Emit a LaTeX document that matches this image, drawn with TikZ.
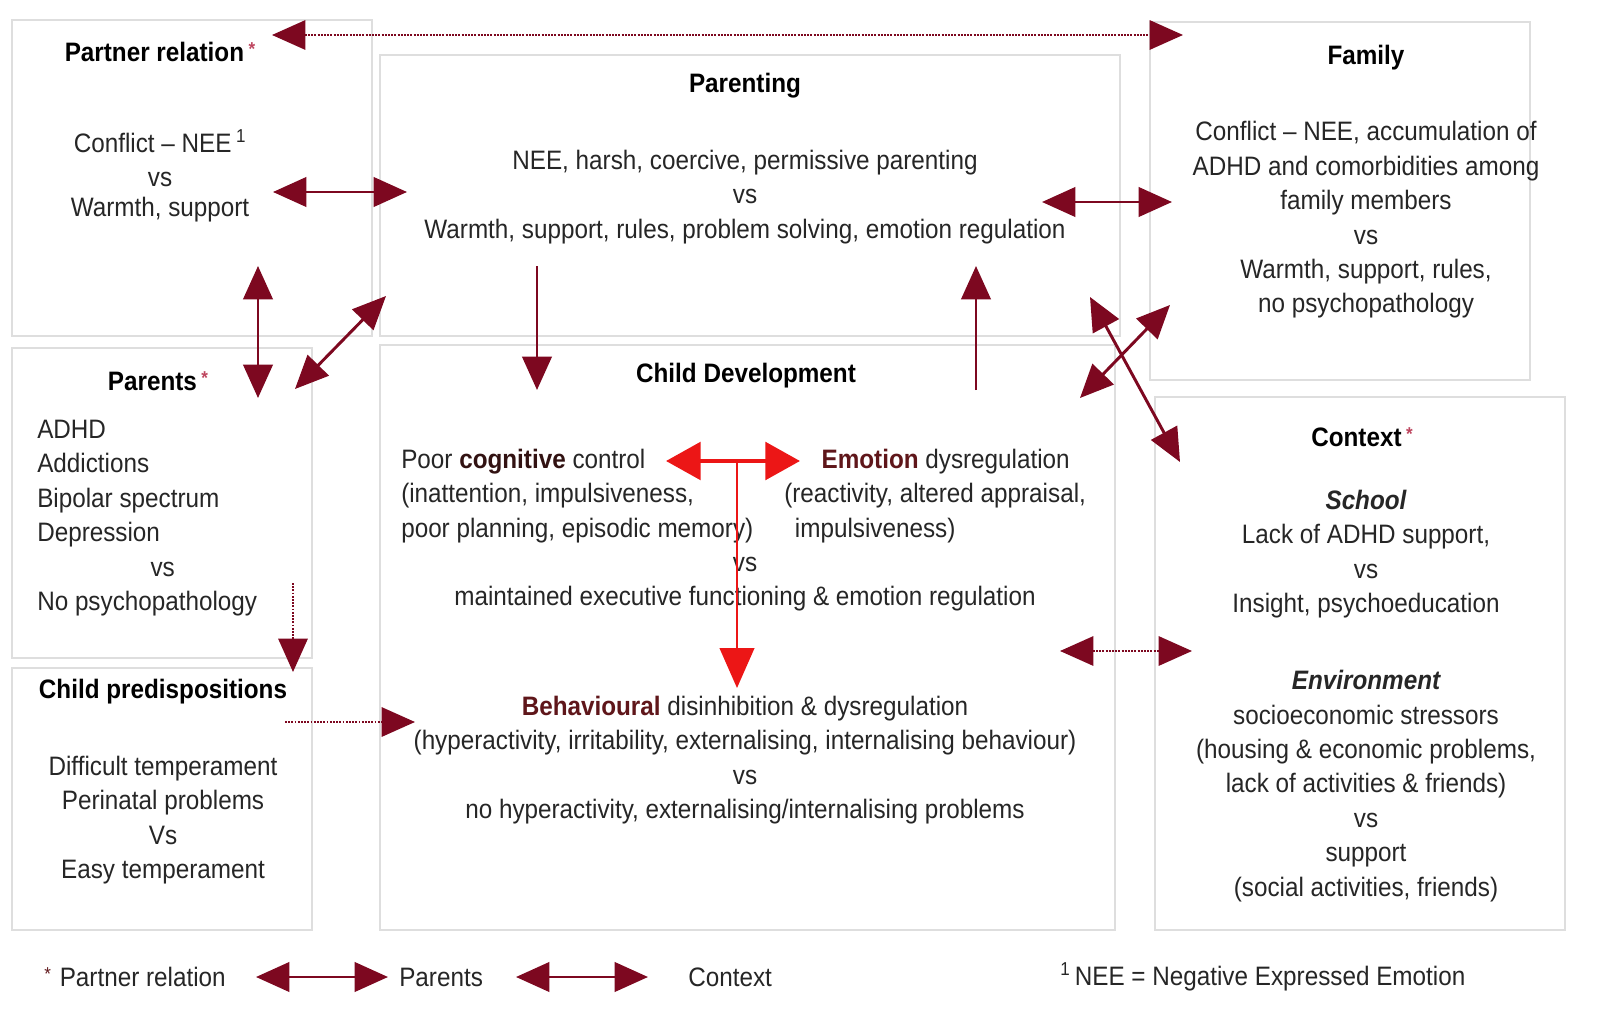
\documentclass[tikz,border=0pt]{standalone}
\usepackage{fontspec}
\setmainfont{Liberation Sans}[FakeStretch=0.91]
\usetikzlibrary{arrows.meta}
\definecolor{arrowred}{RGB}{125,8,32}
\definecolor{brightred}{RGB}{236,22,22}
\definecolor{boxline}{RGB}{222,222,222}
\definecolor{keyword}{RGB}{95,22,26}
\definecolor{keydark}{RGB}{50,18,18}
\definecolor{starcol}{RGB}{190,70,95}
\newcommand{\redstar}{\textcolor{starcol}{\raisebox{0.45ex}{\fontsize{14}{14}\selectfont *}}}
\begin{document}
\begin{tikzpicture}[x=0.75pt,y=-0.75pt,
  every node/.style={inner sep=0pt, font=\fontsize{20}{25.8}\selectfont, text=black!85},
  txt/.style={align=center},
  lefttxt/.style={align=left, anchor=west},
  headtxt/.style={font=\fontsize{20}{25.8}\selectfont\bfseries, text=black},
  box/.style={draw=boxline, line width=1.1pt},
  twoway/.style={draw=arrowred, line width=2.2pt, {Triangle[length=25pt,width=22pt]}-{Triangle[length=25pt,width=22pt]}},
  oneway/.style={draw=arrowred, line width=2.2pt, -{Triangle[length=25pt,width=22pt]}},
  dottwo/.style={draw=arrowred, line width=1.4pt, densely dotted, {Triangle[length=25pt,width=22pt]}-{Triangle[length=25pt,width=22pt]}},
  dotone/.style={draw=arrowred, line width=1.4pt, densely dotted, -{Triangle[length=25pt,width=22pt]}},
  redtwo/.style={draw=brightred, line width=3.5pt, {Triangle[length=26pt,width=28pt]}-{Triangle[length=26pt,width=28pt]}},
  redone/.style={draw=brightred, line width=1.6pt, -{Triangle[length=30pt,width=26pt]}}
]
\useasboundingbox[fill=white] (0,0) rectangle (1607,1020);

% ---------- boxes ----------
\draw[box] (12,20) rectangle (372,336);
\draw[box] (380,55) rectangle (1120,336);
\draw[box] (1150,22) rectangle (1530,380);
\draw[box] (12,348) rectangle (312,658);
\draw[box] (12,668) rectangle (312,930);
\draw[box] (380,345) rectangle (1115,930);
\draw[box] (1155,397) rectangle (1565,930);

% ---------- Partner relation ----------
\node[headtxt] (partnerH) at (160,52) {Partner relation\,\redstar};
\node[txt] (partnerT) at (160,176) {Conflict -- NEE\,\textsuperscript{1}\\[-1pt] vs\\[-3pt] Warmth, support};

% ---------- Parenting ----------
\node[headtxt] (parentingH) at (745,86) {Parenting};
\node[txt] (parentingT) at (745,197) {NEE, harsh, coercive, permissive parenting\\ vs\\ Warmth, support, rules, problem solving, emotion regulation};

% ---------- Family ----------
\node[headtxt] (familyH) at (1366,58) {Family};
\node[txt] (familyT) at (1366,220) {Conflict -- NEE, accumulation of\\ ADHD and comorbidities among\\ family members\\ vs\\ Warmth, support, rules,\\ no psychopathology};

% ---------- Parents ----------
\node[headtxt] (parentsH) at (158,381) {Parents\,\redstar};
\node[lefttxt] (parentsT) at (37,518) {ADHD\\ Addictions\\ Bipolar spectrum\\ Depression\\ \hspace*{85pt}vs\\ No psychopathology};

% ---------- Child predispositions ----------
\node[headtxt] (childpredH) at (163,692) {Child predispositions};
\node[txt] (childpredT) at (163,820) {Difficult temperament\\ Perinatal problems\\ Vs\\ Easy temperament};

% ---------- Child development ----------
\node[headtxt] (childdevH) at (746,376) {Child Development};
\node[lefttxt] (cogT) at (401,496) {Poor \textbf{\textcolor{keydark}{cognitive}} control\\ (inattention, impulsiveness,\\ poor planning, episodic memory)};
\node[lefttxt] (emoT) at (784,496) {\hspace*{28pt}\textbf{\textcolor{keyword}{Emotion}} dysregulation\\ (reactivity, altered appraisal,\\ \hspace*{8pt}impulsiveness)};
\node[txt] (execT) at (745,584) {vs\\ maintained executive functioning \& emotion regulation};
\node[txt] (behT) at (745,760) {\textbf{\textcolor{keyword}{Behavioural}} disinhibition \& dysregulation\\ (hyperactivity, irritability, externalising, internalising behaviour)\\ vs\\ no hyperactivity, externalising/internalising problems};

% ---------- Context ----------
\node[headtxt] (contextH) at (1362,437) {Context\,\redstar};
\node[txt] (schoolT) at (1366,554) {{\bfseries\itshape School}\\ Lack of ADHD support,\\ vs\\ Insight, psychoeducation};
\node[txt] (envT) at (1366,786) {{\bfseries\itshape Environment}\\ socioeconomic stressors\\ (housing \& economic problems,\\ lack of activities \& friends)\\ vs\\ support\\ (social activities, friends)};

% ---------- Legend ----------
\node[anchor=west] (legPartner) at (44,977) {\textcolor{keyword}{\raisebox{0.45ex}{\fontsize{14}{14}\selectfont *}}\,\,Partner relation};
\node[anchor=west] (legParents) at (399,977) {Parents};
\node[anchor=west] (legContext) at (688,977) {Context};
\node[anchor=west] (legNEE) at (1060,977) {\textsuperscript{1}\,NEE = Negative Expressed Emotion};

% ---------- arrow end points ----------
\coordinate (topL) at (272,35);   \coordinate (topR) at (1183,35);
\coordinate (ppL) at (273,192);   \coordinate (ppR) at (407,192);
\coordinate (pfL) at (1042,202);  \coordinate (pfR) at (1172,202);
\coordinate (vpU) at (258,266);   \coordinate (vpD) at (258,398);
\coordinate (dgA) at (295,389);   \coordinate (dgB) at (386,296);
\coordinate (dnA) at (537,266);   \coordinate (dnB) at (537,390);
\coordinate (upA) at (976,390);   \coordinate (upB) at (976,266);
\coordinate (c1A) at (1080,398);  \coordinate (c1B) at (1170,305);
\coordinate (c2A) at (1090,297);  \coordinate (c2B) at (1180,462);
\coordinate (ctxL) at (1060,651); \coordinate (ctxR) at (1192,651);
\coordinate (pcA) at (293,583);   \coordinate (pcB) at (293,672);
\coordinate (cbA) at (285,722);   \coordinate (cbB) at (415,722);
\coordinate (rhL) at (666,461);   \coordinate (rhR) at (800,461);
\coordinate (rvA) at (737,461);   \coordinate (rvB) at (737,688);
\coordinate (lg1L) at (256,977);  \coordinate (lg1R) at (388,977);
\coordinate (lg2L) at (516,977);  \coordinate (lg2R) at (648,977);

% ---------- arrows ----------
\draw[dottwo] (topL) -- (topR);
\draw[twoway] (ppL) -- (ppR);
\draw[twoway] (pfL) -- (pfR);
\draw[twoway] (vpU) -- (vpD);
\draw[twoway] (dgA) -- (dgB);
\draw[oneway] (dnA) -- (dnB);
\draw[oneway] (upA) -- (upB);
\draw[twoway] (c1A) -- (c1B);
\draw[twoway] (c2A) -- (c2B);
\draw[dottwo] (ctxL) -- (ctxR);
\draw[dotone] (pcA) -- (pcB);
\draw[dotone] (cbA) -- (cbB);
\draw[redone] (rvA) -- (rvB);
\draw[redtwo] (rhL) -- (rhR);
\draw[twoway] (lg1L) -- (lg1R);
\draw[twoway] (lg2L) -- (lg2R);
\end{tikzpicture}
\end{document}
